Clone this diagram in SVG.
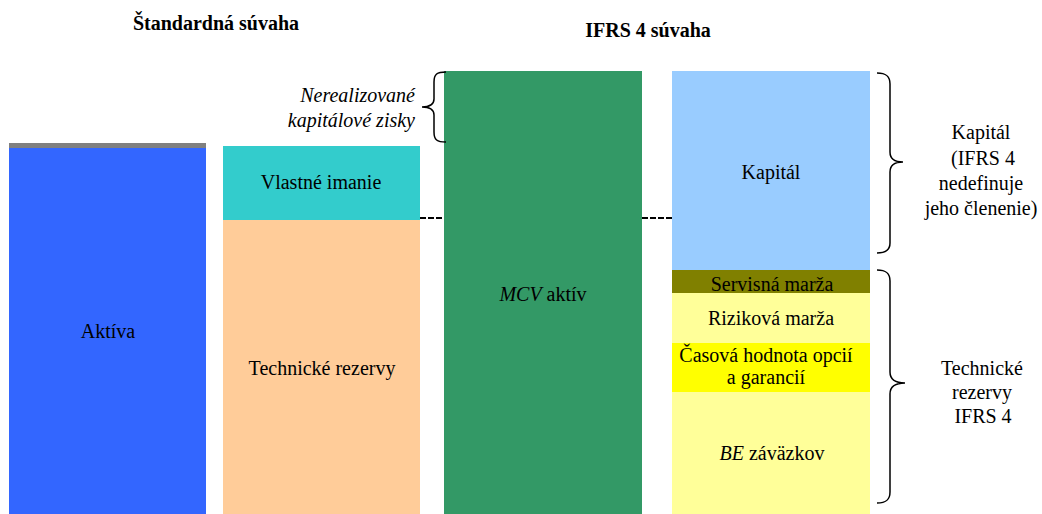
<svg xmlns="http://www.w3.org/2000/svg" width="1042" height="514" viewBox="0 0 1042 514" font-family="'Liberation Serif', 'Times New Roman', Times, 'DejaVu Serif', serif">
  <style>
    text { font-family: "Liberation Serif", "Times New Roman", Times, "DejaVu Serif", serif; font-size: 20px; fill: #000; }
    .title { font-weight: bold; text-anchor: middle; }
    .c { text-anchor: middle; }
    .r { text-anchor: end; }
    .it { font-style: italic; }
    .brace { fill: none; stroke: #000; stroke-width: 1.5; }
    .dash { fill: none; stroke: #000; stroke-width: 1.8; stroke-dasharray: 6 2; }
  </style>

  <rect width="1042" height="514" fill="#fff"/>

  <!-- headings -->
  <text class="title" x="216" y="30">Štandardná súvaha</text>
  <text class="title" x="648" y="37">IFRS 4 súvaha</text>

  <!-- standard balance sheet: assets -->
  <g id="aktiva">
    <rect x="9" y="143" width="197" height="5" fill="#808080"/>
    <rect x="9" y="148" width="197" height="366" fill="#3366FF"/>
    <text class="c" x="108" y="338">Aktíva</text>
  </g>

  <!-- standard balance sheet: liabilities -->
  <g id="vlastne-imanie">
    <rect x="223" y="146" width="197" height="74" fill="#33CCCC"/>
    <text class="c" x="321" y="189">Vlastné imanie</text>
  </g>
  <g id="technicke-rezervy">
    <rect x="223" y="220" width="197" height="294" fill="#FFCC99"/>
    <text class="c" x="322" y="375">Technické rezervy</text>
  </g>

  <!-- IFRS 4: assets at market value -->
  <g id="mcv-aktiv">
    <rect x="444" y="71" width="198" height="443" fill="#339966"/>
    <text class="c" x="543" y="301"><tspan class="it">MCV</tspan> aktív</text>
  </g>

  <!-- IFRS 4: liabilities side -->
  <g id="kapital">
    <rect x="672" y="71" width="198" height="199" fill="#99CCFF"/>
    <text class="c" x="771" y="179">Kapitál</text>
  </g>
  <g id="servisna-marza">
    <rect x="672" y="270" width="198" height="23" fill="#808000"/>
    <text class="c" x="772" y="291">Servisná marža</text>
  </g>
  <g id="rizikova-marza">
    <rect x="672" y="293" width="198" height="50" fill="#FFFF99"/>
    <text class="c" x="771" y="325">Riziková marža</text>
  </g>
  <g id="casova-hodnota">
    <rect x="672" y="343" width="198" height="49" fill="#FFFF00"/>
    <text class="c" x="766" y="362">Časová hodnota opcií</text>
    <text class="c" x="766" y="384">a garancií</text>
  </g>
  <g id="be-zavazkov">
    <rect x="672" y="392" width="198" height="122" fill="#FFFF99"/>
    <text class="c" x="772" y="460"><tspan class="it">BE</tspan> záväzkov</text>
  </g>

  <!-- unrealised gains label with brace -->
  <g id="nerealizovane-zisky">
    <path class="brace" d="M 446 72 C 437 72 434 74 434 82 L 434 99 C 434 104 431 107 422 107 C 431 107 434 110 434 115 L 434 132 C 434 140 437 142 446 142"/>
    <text class="r it" x="415" y="102">Nerealizované</text>
    <text class="r it" x="415" y="127">kapitálové zisky</text>
  </g>

  <!-- capital brace and label -->
  <g id="kapital-ifrs">
    <path class="brace" d="M 877 73 C 886 73 890 76 890 84 L 890 152 C 890 158 894 162 903 162 C 894 162 890 166 890 172 L 890 243 C 890 250 886 253 877 253"/>
    <text class="c" x="981" y="139">Kapitál</text>
    <text class="c" x="983" y="165">(IFRS 4</text>
    <text class="c" x="981" y="190">nedefinuje</text>
    <text class="c" x="981" y="215">jeho členenie)</text>
  </g>

  <!-- technical reserves brace and label -->
  <g id="technicke-rezervy-ifrs">
    <path class="brace" d="M 877 270 C 886 270 890 273 890 281 L 890 372 C 890 379 894 383 905 383 C 894 383 890 387 890 394 L 890 492 C 890 500 886 503 877 503"/>
    <text class="c" x="982" y="375">Technické</text>
    <text class="c" x="982" y="399">rezervy</text>
    <text class="c" x="983" y="423">IFRS 4</text>
  </g>

  <!-- connectors: dashed level lines between columns -->
  <g id="connectors">
    <line class="dash" x1="420" y1="218" x2="444" y2="218"/>
    <line class="dash" x1="642" y1="218" x2="672" y2="218"/>
  </g>
</svg>
